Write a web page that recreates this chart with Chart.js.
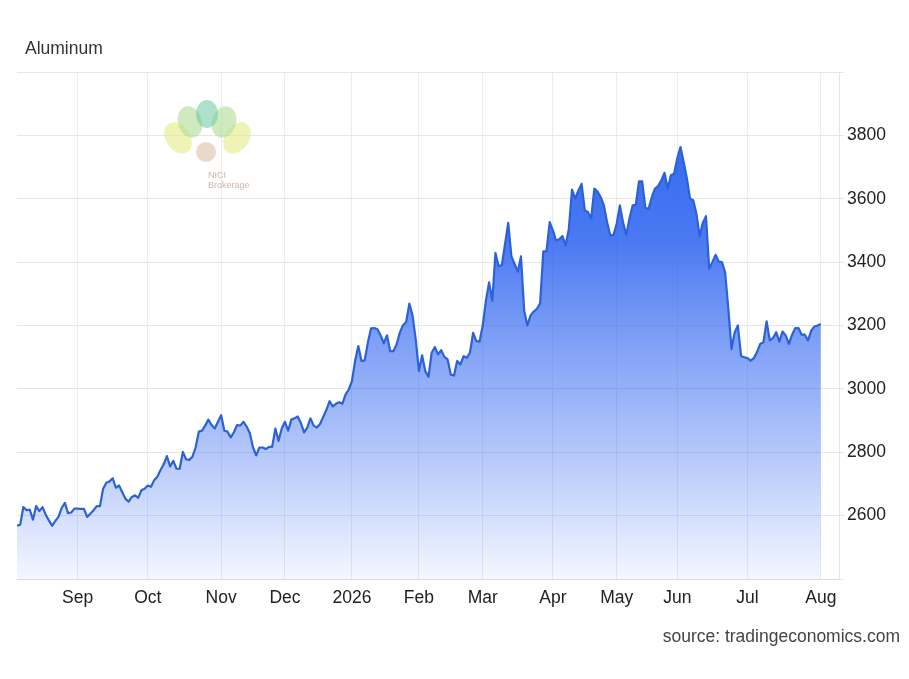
<!DOCTYPE html>
<html>
<head>
<meta charset="utf-8">
<script src="https://cdn.jsdelivr.net/npm/chart.js@4.4.0/dist/chart.umd.min.js"></script>
<style>
  html, body { margin: 0; padding: 0; background: #fff; }
  #wrap { position: relative; width: 909px; height: 679px; overflow: hidden; }
  #c { position: absolute; left: 0; top: 0; }
  .txt { position: absolute; font-family: "Liberation Sans", Arial, sans-serif; font-size: 17.5px; line-height: 20px; white-space: nowrap; }
  #title { left: 25px; top: 38px; color: #333; }
  #source { right: 9px; top: 626px; color: #444; }
  #wm { left: 208px; top: 170px; font-size: 9px; line-height: 10px; color: rgba(185,160,140,0.75); }
</style>
</head>
<body>
<div id="wrap">
  <canvas id="c" width="909" height="679"></canvas>
  <div class="txt" id="title">Aluminum</div>
  <div class="txt" id="wm">NICI<br>Brokerage</div>
  <div class="txt" id="source">source: tradingeconomics.com</div>
</div>
<script>
// trading-day index of the first session of each month, and its label
const monthLabels = ['Sep', 'Oct', 'Nov', 'Dec', '2026', 'Feb', 'Mar', 'Apr', 'May', 'Jun', 'Jul', 'Aug'];
const monthStarts = [19, 41, 64, 84, 105, 126, 146, 168, 188, 207, 229, 252];

// y axis ticks (USD/T)
const yTicks = [2400, 2600, 2800, 3000, 3200, 3400, 3600, 3800, 4000];

// daily aluminum price, one value per trading day (Aug 2025 - Aug 2026)
const prices = [
  2568, 2571, 2627, 2617, 2619, 2587, 2630, 2614, 2627, 2603,
  2585, 2568, 2583, 2596, 2624, 2640, 2608, 2610, 2622, 2622,
  2621, 2621, 2596, 2606, 2617, 2630, 2630, 2685, 2704, 2708,
  2718, 2688, 2695, 2674, 2653, 2644, 2659, 2664, 2656, 2680,
  2685, 2695, 2691, 2712, 2723, 2744, 2762, 2788, 2755, 2773,
  2748, 2748, 2801, 2778, 2776, 2786, 2815, 2865, 2868, 2884,
  2903, 2886, 2875, 2896, 2917, 2868, 2865, 2847, 2863, 2886,
  2884, 2896, 2881, 2860, 2815, 2790, 2815, 2815, 2810, 2817,
  2817, 2875, 2836, 2875, 2896, 2868, 2903, 2907, 2913, 2892,
  2863, 2878, 2907, 2884, 2878, 2889, 2911, 2934, 2961, 2945,
  2953, 2958, 2953, 2982, 2998, 3024, 3088, 3135, 3088, 3090,
  3146, 3191, 3192, 3188, 3169, 3144, 3169, 3119, 3119, 3140,
  3177, 3201, 3211, 3269, 3232, 3156, 3056, 3106, 3056, 3038,
  3114, 3132, 3109, 3122, 3101, 3093, 3045, 3042, 3088, 3077,
  3103, 3098, 3114, 3177, 3151, 3149, 3199, 3278, 3336, 3278,
  3429, 3387, 3391, 3457, 3524, 3418, 3394, 3370, 3418, 3247,
  3200, 3232, 3244, 3253, 3270, 3434, 3434, 3526, 3500, 3468,
  3472, 3482, 3453, 3505, 3629, 3600, 3626, 3647, 3563, 3558,
  3537, 3632, 3623, 3605, 3579, 3526, 3484, 3486, 3521, 3579,
  3526, 3486, 3537, 3579, 3581, 3655, 3655, 3571, 3568, 3605,
  3632, 3640, 3658, 3682, 3632, 3674, 3679, 3728, 3763, 3716,
  3665, 3600, 3595, 3553, 3482, 3524, 3545, 3379, 3400, 3423,
  3402, 3400, 3368, 3253, 3126, 3179, 3200, 3103, 3100, 3097,
  3089, 3097, 3116, 3142, 3147, 3213, 3153, 3160, 3179, 3149,
  3181, 3168, 3142, 3171, 3192, 3192, 3171, 3171, 3153, 3184,
  3197, 3200, 3205
];

const FONT = { family: '"Liberation Sans", Arial, sans-serif', size: 17.5 };

function fillGradient(ctx) {
  const area = ctx.chart.chartArea;
  if (!area) return 'rgba(40,95,240,0.5)';
  const g = ctx.chart.ctx.createLinearGradient(0, area.top, 0, area.bottom);
  g.addColorStop(0.00, 'rgba(40,95,240,1)');
  g.addColorStop(0.33, 'rgba(40,95,240,0.84)');
  g.addColorStop(0.50, 'rgba(40,95,240,0.63)');
  g.addColorStop(0.75, 'rgba(40,95,240,0.35)');
  g.addColorStop(1.00, 'rgba(40,95,240,0.05)');
  return g;
}

// faint logo watermark behind the data
const watermark = {
  id: 'watermark',
  beforeDatasetsDraw(chart) {
    const c = chart.ctx;
    c.save();
    c.globalAlpha = 0.55;
    const petal = (x, y, rx, ry, rot, col) => {
      c.beginPath();
      c.ellipse(x, y, rx, ry, rot, 0, Math.PI * 2);
      c.fillStyle = col;
      c.fill();
    };
    petal(178, 138, 12, 17, -0.6, '#e3ea7a');
    petal(237, 138, 12, 17, 0.6, '#e3ea7a');
    petal(190, 122, 12, 16, -0.3, '#a9d98c');
    petal(224, 122, 12, 16, 0.3, '#a9d98c');
    petal(207, 114, 11, 14, 0, '#6cc9a0');
    petal(206, 152, 10, 10, 0, '#d8b9a0');
    c.restore();
  }
};

new Chart(document.getElementById('c'), {
  type: 'line',
  data: {
    datasets: [{
      data: prices.map((v, i) => ({ x: i, y: v })),
      borderColor: '#2c62d6',
      borderWidth: 2.2,
      borderJoinStyle: 'round',
      pointRadius: 0,
      tension: 0,
      fill: 'start',
      backgroundColor: fillGradient
    }]
  },
  options: {
    animation: false,
    responsive: false,
    devicePixelRatio: 1,
    layout: { padding: { left: 17, top: 72, right: 0, bottom: 0 } },
    plugins: { legend: { display: false }, tooltip: { enabled: false } },
    scales: {
      x: {
        type: 'linear',
        min: 0,
        max: 257.7,
        afterBuildTicks: s => { s.ticks = monthStarts.map(v => ({ value: v })); },
        afterFit: s => { s.height = 100; },
        grid: { color: '#ececec', drawTicks: false },
        border: { color: '#dcdcdc' },
        ticks: {
          autoSkip: false,
          maxRotation: 0,
          padding: 9,
          color: '#222',
          font: FONT,
          callback: (v, i) => monthLabels[i]
        }
      },
      y: {
        position: 'right',
        min: yTicks[0],
        max: yTicks[yTicks.length - 1],
        afterBuildTicks: s => { s.ticks = yTicks.map(v => ({ value: v })); },
        afterFit: s => { s.width = 70; },
        grid: { color: '#e6e6e6', tickLength: 5 },
        border: { color: '#e4e4e4' },
        ticks: {
          padding: 3,
          color: '#222',
          font: FONT,
          callback: v => (v === yTicks[0] || v === yTicks[yTicks.length - 1]) ? '' : String(v)
        }
      }
    }
  },
  plugins: [watermark]
});
</script>
</body>
</html>
